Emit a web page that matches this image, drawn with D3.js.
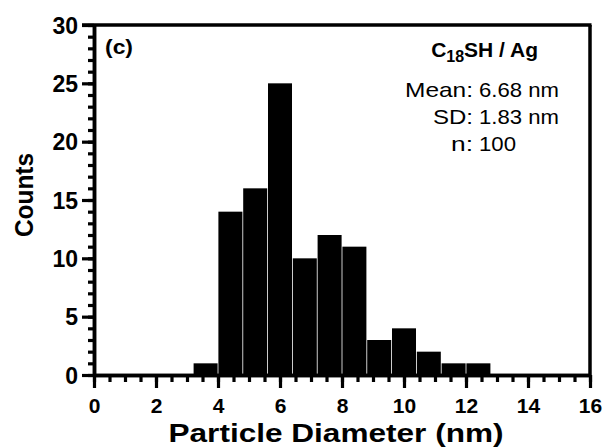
<!DOCTYPE html>
<html>
<head>
<meta charset="utf-8">
<script src="https://cdn.jsdelivr.net/npm/d3@7"></script>
<style>
  body { margin: 0; background: #fff; }
  svg text { font-family: "Liberation Sans", Arial, Helvetica, sans-serif; }
</style>
</head>
<body>
<div id="chart"></div>
<script>
// histogram bins (nm) and counts
var binStarts = [3.2, 4.0, 4.8, 5.6, 6.4, 7.2, 8.0, 8.8, 9.6, 10.4, 11.2, 12.0];
var binWidth = 0.8;
var counts = [1, 14, 16, 25, 10, 12, 11, 3, 4, 2, 1, 1];
var xTicks = [0, 2, 4, 6, 8, 10, 12, 14, 16];
var yTicks = [0, 5, 10, 15, 20, 25, 30];
var statLabels = ["Mean:", "SD:", "n:"];
var statValues = ["6.68 nm", "1.83 nm", "100"];

var width = 608, height = 447;
var margin = {top: 25, left: 94, right: 18, bottom: 72};
var plotW = width - margin.left - margin.right;
var plotH = height - margin.top - margin.bottom;

var svg = d3.select("#chart").append("svg")
    .attr("width", width)
    .attr("height", height);

var g = svg.append("g")
    .attr("transform", "translate(" + margin.left + "," + margin.top + ")");

var x = d3.scaleLinear().domain([0, 16]).range([0, plotW]);
var y = d3.scaleLinear().domain([0, 30]).range([plotH, 0]);

var bins = binStarts.map((s, i) => ({x0: s, x1: s + binWidth, n: counts[i]}));

// bars
g.selectAll("rect.bar")
    .data(bins)
    .enter().append("rect")
    .attr("class", "bar")
    .attr("x", d => x(d.x0) + 0.4)
    .attr("width", d => x(d.x1) - x(d.x0) - 0.8)
    .attr("y", d => y(d.n))
    .attr("height", d => y(0) - y(d.n))
    .attr("fill", "#000");

// frame top + right
g.append("line").attr("x1", -12).attr("x2", plotW + 1.5).attr("y1", 0).attr("y2", 0)
    .attr("stroke", "#000").attr("stroke-width", 3.5);
g.append("line").attr("x1", plotW).attr("x2", plotW).attr("y1", 0).attr("y2", plotH)
    .attr("stroke", "#000").attr("stroke-width", 3.5);

// minor ticks
var xMinor = d3.axisBottom(x).tickValues(d3.range(0, 16.01, 0.5)).tickSize(7).tickFormat("").tickSizeOuter(0);
var yMinor = d3.axisLeft(y).tickValues(d3.range(0, 30.01, 1)).tickSize(6).tickFormat("").tickSizeOuter(0);
g.append("g").attr("class", "axis").attr("transform", "translate(0," + plotH + ")").call(xMinor);
g.append("g").attr("class", "axis").call(yMinor);

// major ticks
var xAxis = d3.axisBottom(x).tickValues(xTicks).tickSize(13).tickSizeOuter(0);
var yAxis = d3.axisLeft(y).tickValues(yTicks).tickSize(12).tickSizeOuter(0);
var gx = g.append("g").attr("class", "axis").attr("transform", "translate(0," + plotH + ")").call(xAxis);
var gy = g.append("g").attr("class", "axis").call(yAxis);

g.selectAll(".axis path").attr("stroke", "#000").attr("stroke-width", 3.5);
g.selectAll(".axis line").attr("stroke", "#000").attr("stroke-width", 3.2);

gx.selectAll("text")
    .attr("y", 23).attr("dy", "0.71em")
    .attr("font-size", 21).attr("font-weight", "bold").attr("fill", "#000");
gy.selectAll("text")
    .attr("x", -16).attr("dy", "0.36em")
    .attr("font-size", 23).attr("font-weight", "bold").attr("fill", "#000");

// axis titles
svg.append("text")
    .attr("x", margin.left + x(8) - 6)
    .attr("y", 442)
    .attr("text-anchor", "middle")
    .attr("font-size", 25).attr("font-weight", "bold")
    .attr("textLength", 335).attr("lengthAdjust", "spacingAndGlyphs")
    .text("Particle Diameter (nm)");

svg.append("text")
    .attr("transform", "translate(33,195) rotate(-90)")
    .attr("text-anchor", "middle")
    .attr("font-size", 25).attr("font-weight", "bold")
    .attr("textLength", 84).attr("lengthAdjust", "spacingAndGlyphs")
    .text("Counts");

// panel label
svg.append("text")
    .attr("x", 105).attr("y", 54)
    .attr("font-size", 20).attr("font-weight", "bold")
    .attr("textLength", 28).attr("lengthAdjust", "spacingAndGlyphs")
    .text("(c)");

// sample title with subscript
var title = svg.append("text")
    .attr("x", 538).attr("y", 57)
    .attr("text-anchor", "end")
    .attr("font-size", 21).attr("font-weight", "bold");
title.append("tspan").text("C");
title.append("tspan").attr("font-size", 16).attr("dy", 5).text("18");
title.append("tspan").attr("dy", -5).text("SH / Ag");

// stats
var statY = [97, 124, 151];
var labelW = [68, 40, 22];
var valueW = [80, 80, 37];
statLabels.forEach((s, i) => {
    svg.append("text")
        .attr("x", 473).attr("y", statY[i])
        .attr("text-anchor", "end")
        .attr("font-size", 21)
        .attr("textLength", labelW[i]).attr("lengthAdjust", "spacingAndGlyphs")
        .text(s);
    svg.append("text")
        .attr("x", 479).attr("y", statY[i])
        .attr("font-size", 21)
        .attr("textLength", valueW[i]).attr("lengthAdjust", "spacingAndGlyphs")
        .text(statValues[i]);
});
</script>
</body>
</html>
